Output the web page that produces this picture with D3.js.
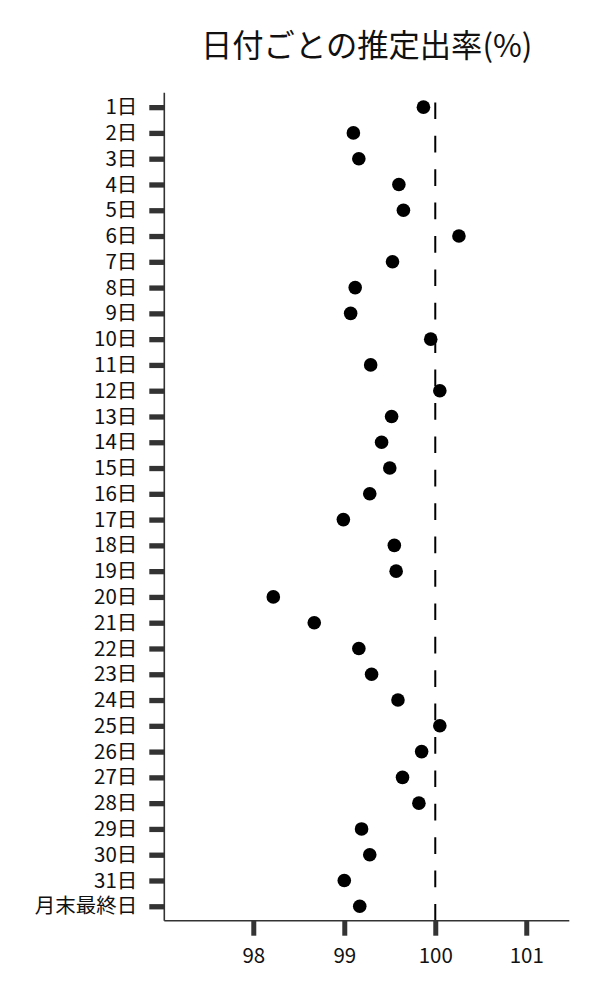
<!DOCTYPE html>
<html><head><meta charset="utf-8">
<script src="https://cdn.jsdelivr.net/npm/d3@7"></script>
<style>body{margin:0;background:#fff;} text{font-family:"Noto Sans CJK JP","Noto Sans",sans-serif;}</style>
</head><body>
<svg id="c" width="600" height="1000"></svg>
<script>
const title = "日付ごとの推定出率(%)";
const categories = ["1日","2日","3日","4日","5日","6日","7日","8日","9日","10日","11日","12日","13日","14日","15日","16日","17日","18日","19日","20日","21日","22日","23日","24日","25日","26日","27日","28日","29日","30日","31日","月末最終日"];
const values = [99.87,99.10,99.16,99.60,99.65,100.26,99.53,99.12,99.07,99.95,99.29,100.05,99.52,99.41,99.50,99.28,98.99,99.55,99.57,98.22,98.67,99.16,99.30,99.59,100.05,99.85,99.64,99.82,99.19,99.28,99.00,99.17];
const xTicks = [98,99,100,101];
const refValue = 100;

(function(){
const svg = d3.select("#c");
const pLeft = 164.3, pRight = 569.3, pTop = 92.7, pBottom = 920.7;
const x = d3.scaleLinear().domain([97.022, 101.473]).range([pLeft, pRight]);
const y = d3.scalePoint().domain(categories).range([pTop, pBottom]).padding(0.56);
const ff = '"Noto Sans CJK JP","Noto Sans",sans-serif';

svg.append("text").attr("x", 366.7).attr("y", 43).attr("text-anchor","middle")
  .attr("dominant-baseline","central").attr("font-size", 31.3).attr("fill","#111").text(title);

svg.append("line").attr("x1", x(refValue)).attr("x2", x(refValue))
  .attr("y1", pBottom).attr("y2", pTop).attr("stroke","#000").attr("stroke-width",2)
  .attr("stroke-dasharray","16.7,16.7");

svg.selectAll("circle.pt").data(categories).enter().append("circle").attr("class","pt")
  .attr("cx",(d,i)=>x(values[i])).attr("cy",d=>y(d)).attr("r",6.8).attr("fill","#000");

const xa = svg.append("g").attr("transform",`translate(0,${pBottom})`)
  .call(d3.axisBottom(x).tickValues(xTicks).tickSize(15).tickPadding(13).tickFormat(d3.format("d")));
xa.select(".domain").attr("stroke","#333").attr("stroke-width",1.6).attr("d",`M${pLeft},0H${pRight}`);
xa.selectAll(".tick line").attr("stroke","#333").attr("stroke-width",5);
xa.selectAll(".tick text").attr("font-size",20.5).attr("fill","#111").style("font-family",ff);

const ya = svg.append("g").attr("transform",`translate(${pLeft},0)`)
  .call(d3.axisLeft(y).tickSize(15).tickPadding(12));
ya.select(".domain").attr("stroke","#333").attr("stroke-width",1.6).attr("d",`M0,${pTop}V${pBottom}`);
ya.selectAll(".tick line").attr("stroke","#333").attr("stroke-width",5.3);
ya.selectAll(".tick text").attr("font-size",20.5).attr("fill","#111").style("font-family",ff);
})();
</script>
</body></html>
